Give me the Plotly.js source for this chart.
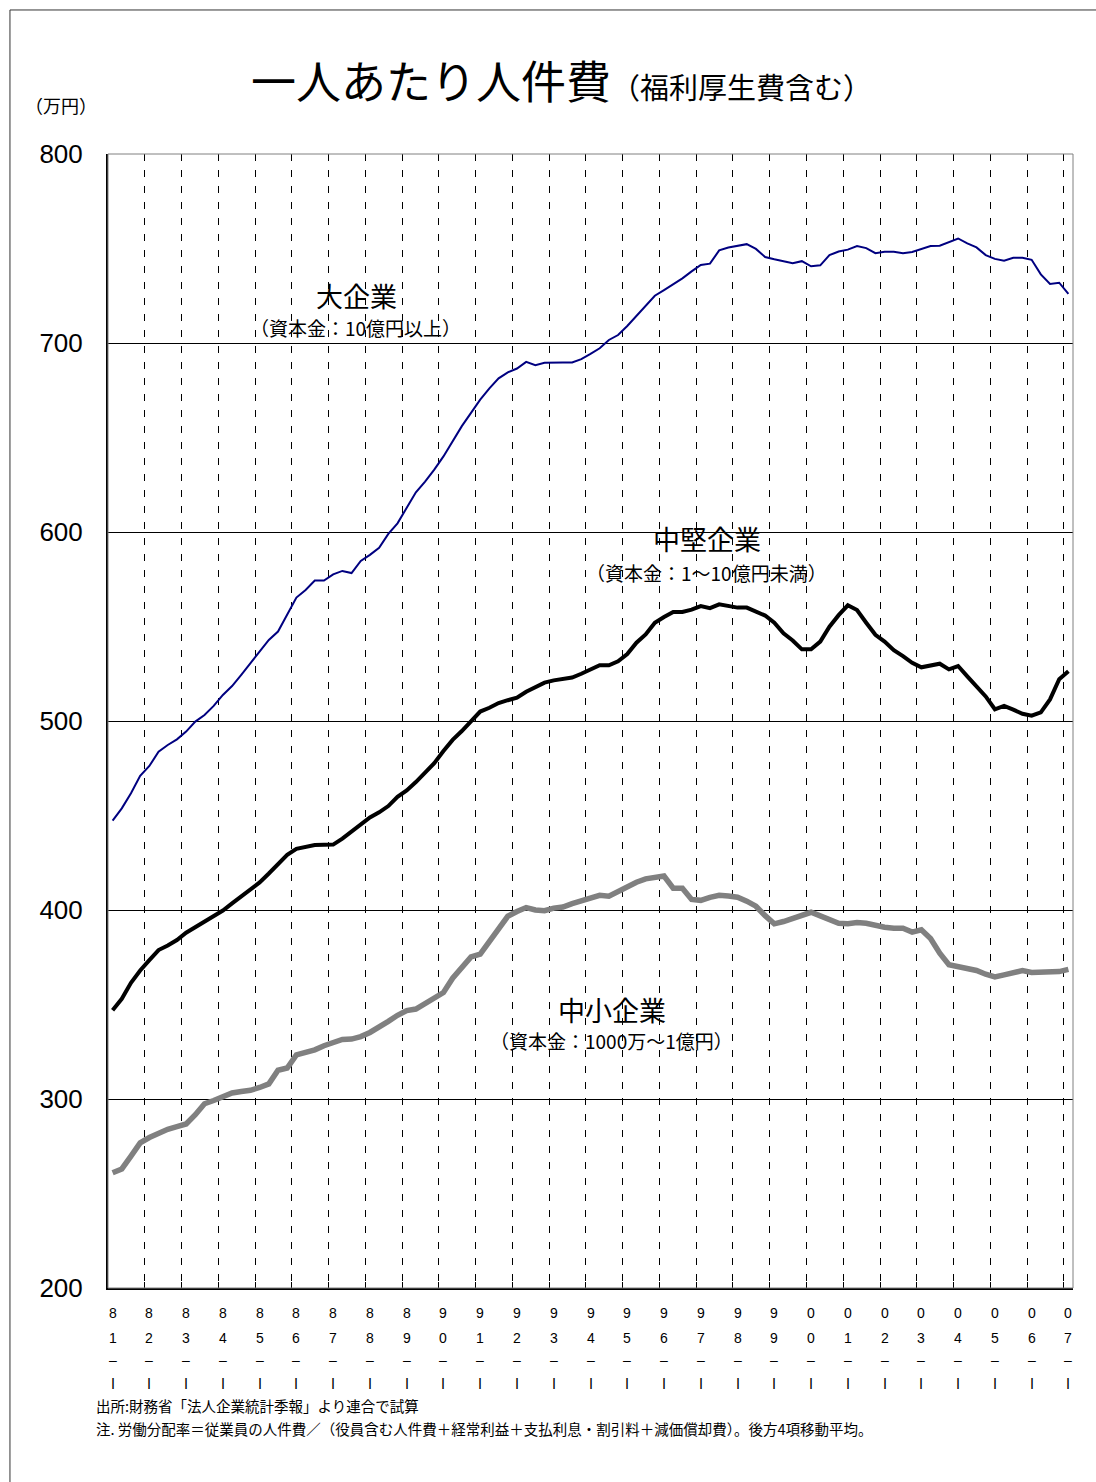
<!DOCTYPE html>
<html>
<head>
<meta charset="utf-8">
<script src="https://cdn.plot.ly/plotly-3.0.1.min.js"></script>
<style>
  html, body { margin: 0; padding: 0; background: #fff; }
  #chart { width: 1096px; height: 1482px; }
</style>
</head>
<body>
<div id="chart"></div>
<script>
// Fiscal years shown on the category axis (first quarter of each year is labelled)
const years = ['81','82','83','84','85','86','87','88','89','90','91','92','93','94',
               '95','96','97','98','99','00','01','02','03','04','05','06','07'];
const quarters = ['Ⅰ','Ⅱ','Ⅲ','Ⅳ'];

// Personnel cost per employee (万円), 4-quarter trailing average, 81-Ⅰ .. 07-Ⅰ
const largeFirms = [
  447.3, 453.8, 461.8, 471.0, 476.2, 483.8, 487.3, 490.3, 494.4, 499.7,
  503.2, 508.0, 513.8, 518.5, 524.4, 530.5, 536.7, 542.9, 547.3, 556.1,
  565.3, 569.3, 574.3, 574.3, 577.6, 579.4, 578.3, 584.7, 587.9, 591.7,
  599.0, 604.6, 612.9, 621.0, 626.7, 633.0, 640.0, 648.0, 656.0, 663.0,
  670.0, 676.0, 681.3, 684.5, 686.5, 690.0, 688.3, 689.5, 689.7, 689.7,
  689.7, 691.5, 694.2, 697.2, 701.6, 704.2, 709.0, 714.5, 719.8, 725.0,
  728.0, 731.0, 734.2, 737.9, 741.3, 742.0, 749.0, 750.5, 751.5, 752.3,
  749.8, 745.5, 744.3, 743.2, 742.2, 743.3, 740.6, 741.1, 746.5, 748.4,
  749.4, 751.3, 750.2, 747.5, 748.3, 748.3, 747.5, 748.2, 749.6, 751.3,
  751.5, 753.2, 755.3, 752.7, 750.6, 746.5, 744.5, 743.5, 745.1, 745.1,
  744.0, 736.3, 731.2, 731.9, 726.0
];
const midFirms = [
  347.0, 353.0, 361.5, 368.0, 373.5, 378.8, 381.2, 384.1, 388.0, 391.0,
  393.8, 396.5, 399.7, 403.5, 407.3, 410.6, 414.6, 419.3, 424.6, 429.2,
  432.4, 433.6, 434.4, 434.5, 434.6, 437.8, 441.6, 445.8, 449.0, 451.7,
  455.0, 459.9, 463.3, 467.7, 472.5, 477.7, 484.1, 490.0, 494.7, 499.6,
  505.0, 507.0, 509.5, 511.0, 512.3, 515.5, 518.0, 520.3, 521.5, 522.2,
  523.0, 525.0, 527.0, 529.5, 529.5, 531.6, 535.4, 541.4, 545.8, 552.0,
  555.0, 557.7, 557.7, 558.9, 560.8, 559.7, 561.7, 560.9, 560.0, 560.0,
  557.9, 555.8, 552.0, 546.4, 542.6, 537.9, 537.9, 542.0, 549.9, 556.0,
  561.2, 558.7, 552.0, 545.6, 542.0, 537.5, 534.3, 530.8, 528.4, 529.4,
  530.3, 527.3, 529.1, 523.6, 518.3, 513.0, 506.2, 508.0, 506.0, 503.8,
  502.8, 504.6, 511.4, 522.1, 526.3
];
const smallFirms = [
  261.0, 263.0, 269.8, 276.8, 279.6, 282.0, 284.0, 285.4, 286.8, 291.7,
  297.5, 299.2, 301.2, 303.2, 304.0, 304.6, 306.1, 308.0, 315.2, 316.4,
  323.3, 324.3, 326.0, 328.2, 330.2, 331.5, 331.7, 333.0, 335.2, 337.9,
  341.1, 344.3, 346.8, 347.6, 350.4, 353.0, 356.3, 363.9, 369.2, 375.2,
  376.7, 383.4, 389.8, 396.7, 399.2, 401.3, 400.0, 399.6, 401.0, 401.6,
  403.4, 404.7, 406.2, 407.8, 407.3, 409.7, 412.8, 414.7, 416.5, 417.5,
  418.0, 411.5, 411.5, 405.6, 405.1, 406.7, 407.8, 407.4, 406.8, 404.7,
  402.0, 397.0, 392.7, 393.9, 395.5, 397.6, 398.8, 396.9, 394.8, 393.0,
  392.7, 393.4, 393.0, 391.8, 390.9, 390.3, 390.3, 388.3, 389.5, 384.9,
  377.1, 371.0, 369.9, 369.3, 368.0, 366.0, 364.6, 365.7, 367.0, 367.9,
  366.9, 366.9, 367.1, 367.4, 368.6
];

// Quarter names such as "81-Ⅰ", used for hover text; positions are their indices
const periodNames = [];
years.forEach(y => quarters.forEach(q => periodNames.push(y + '-' + q)));
periodNames.length = largeFirms.length;
const xIndex = periodNames.map((_, i) => i);

const JP = '"Noto Sans CJK JP", "Noto Sans", sans-serif';
const LATIN = '"Liberation Sans", Arial, sans-serif';

function series(values, name, color, width) {
  return {
    type: 'scatter', mode: 'lines', name: name,
    x: xIndex, y: values, text: periodNames,
    hovertemplate: '%{text}: %{y}<extra>' + name + '</extra>',
    line: { color: color, width: width }
  };
}

const traces = [
  series(smallFirms, '中小企業', '#808080', 5.5),
  series(midFirms, '中堅企業', '#000000', 4),
  series(largeFirms, '大企業', '#000080', 2)
];

// Dashed separators sit on the boundary just before each year's first quarter
const yearBoundaries = years.slice(1).map((_, k) => 4 * (k + 1) - 0.5);

const annotations = [];
function note(text, x, y, size, xanchor) {
  annotations.push({
    text: text, xref: 'paper', yref: 'paper', x: x, y: y,
    xanchor: xanchor || 'center', yanchor: 'middle', showarrow: false,
    borderpad: 0,
    font: { family: JP, size: size, color: '#000' }
  });
}

// Title and unit
note('一人あたり人件費<span style="font-size:29px">（福利厚生費含む）</span>', 0.147, 1.066, 45, 'left');
note('（万円）', -0.087, 1.043, 18, 'left');

// Series captions
note('大企業', 0.258, 0.875, 27);
note('（資本金：10億円以上）', 0.256, 0.847, 19);
note('中堅企業', 0.621, 0.661, 27);
note('（資本金：1～10億円未満）', 0.620, 0.631, 19);
note('中小企業', 0.522, 0.246, 27);
note('（資本金：1000万～1億円）', 0.522, 0.218, 19);

// Footnotes
note('出所:財務省「法人企業統計季報」より連合で試算', -0.0135, -0.1032, 14.5, 'left');
note('注. 労働分配率＝従業員の人件費／（役員含む人件費＋経常利益＋支払利息・割引料＋減価償却費）。後方4項移動平均。',
     -0.0135, -0.1235, 14.5, 'left');

// Stacked year labels under each first quarter: tens digit, units digit, dash, quarter
const labelRows = [-0.022, -0.044, -0.0635, -0.0838];
years.forEach((y, k) => {
  const parts = [y[0], y[1], '–', quarters[0]];
  parts.forEach((p, r) => {
    annotations.push({
      text: p, xref: 'x', yref: 'paper', x: 4 * k, y: labelRows[r],
      xanchor: 'center', yanchor: 'middle', showarrow: false,
      font: { family: r === 3 ? JP : LATIN, size: 14, color: '#000' }
    });
  });
});

const layout = {
  width: 1096, height: 1482,
  margin: { l: 108, r: 23, t: 154, b: 194 },
  paper_bgcolor: '#fff', plot_bgcolor: '#fff',
  showlegend: false,
  xaxis: {
    range: [-0.5, 104.5], tickvals: yearBoundaries, showticklabels: false,
    showgrid: true, gridcolor: '#000', gridwidth: 1, griddash: '7px,9px',
    ticks: 'inside', ticklen: 6, tickcolor: '#000', tickwidth: 1,
    showline: true, linecolor: '#000', linewidth: 2, zeroline: false
  },
  yaxis: {
    range: [200, 800], tick0: 200, dtick: 100,
    showgrid: true, gridcolor: '#000', gridwidth: 1,
    ticks: 'inside', ticklen: 5, tickcolor: '#000',
    showline: true, linecolor: '#000', linewidth: 2, zeroline: false,
    ticklabelstandoff: 18,
    tickfont: { family: LATIN, size: 26, color: '#000' }
  },
  shapes: [
    // grey frame around the plotting area (top and right edges)
    { type: 'rect', xref: 'paper', yref: 'paper', x0: 0, x1: 1, y0: 0, y1: 1,
      line: { color: '#808080', width: 1 }, layer: 'above' },
    // page border
    { type: 'rect', xref: 'paper', yref: 'paper', x0: -0.1016, x1: 1.03, y0: -0.18, y1: 1.127,
      line: { color: '#333', width: 1 } }
  ],
  annotations: annotations
};

Plotly.newPlot('chart', traces, layout, { displayModeBar: false, staticPlot: true });
</script>
</body>
</html>
